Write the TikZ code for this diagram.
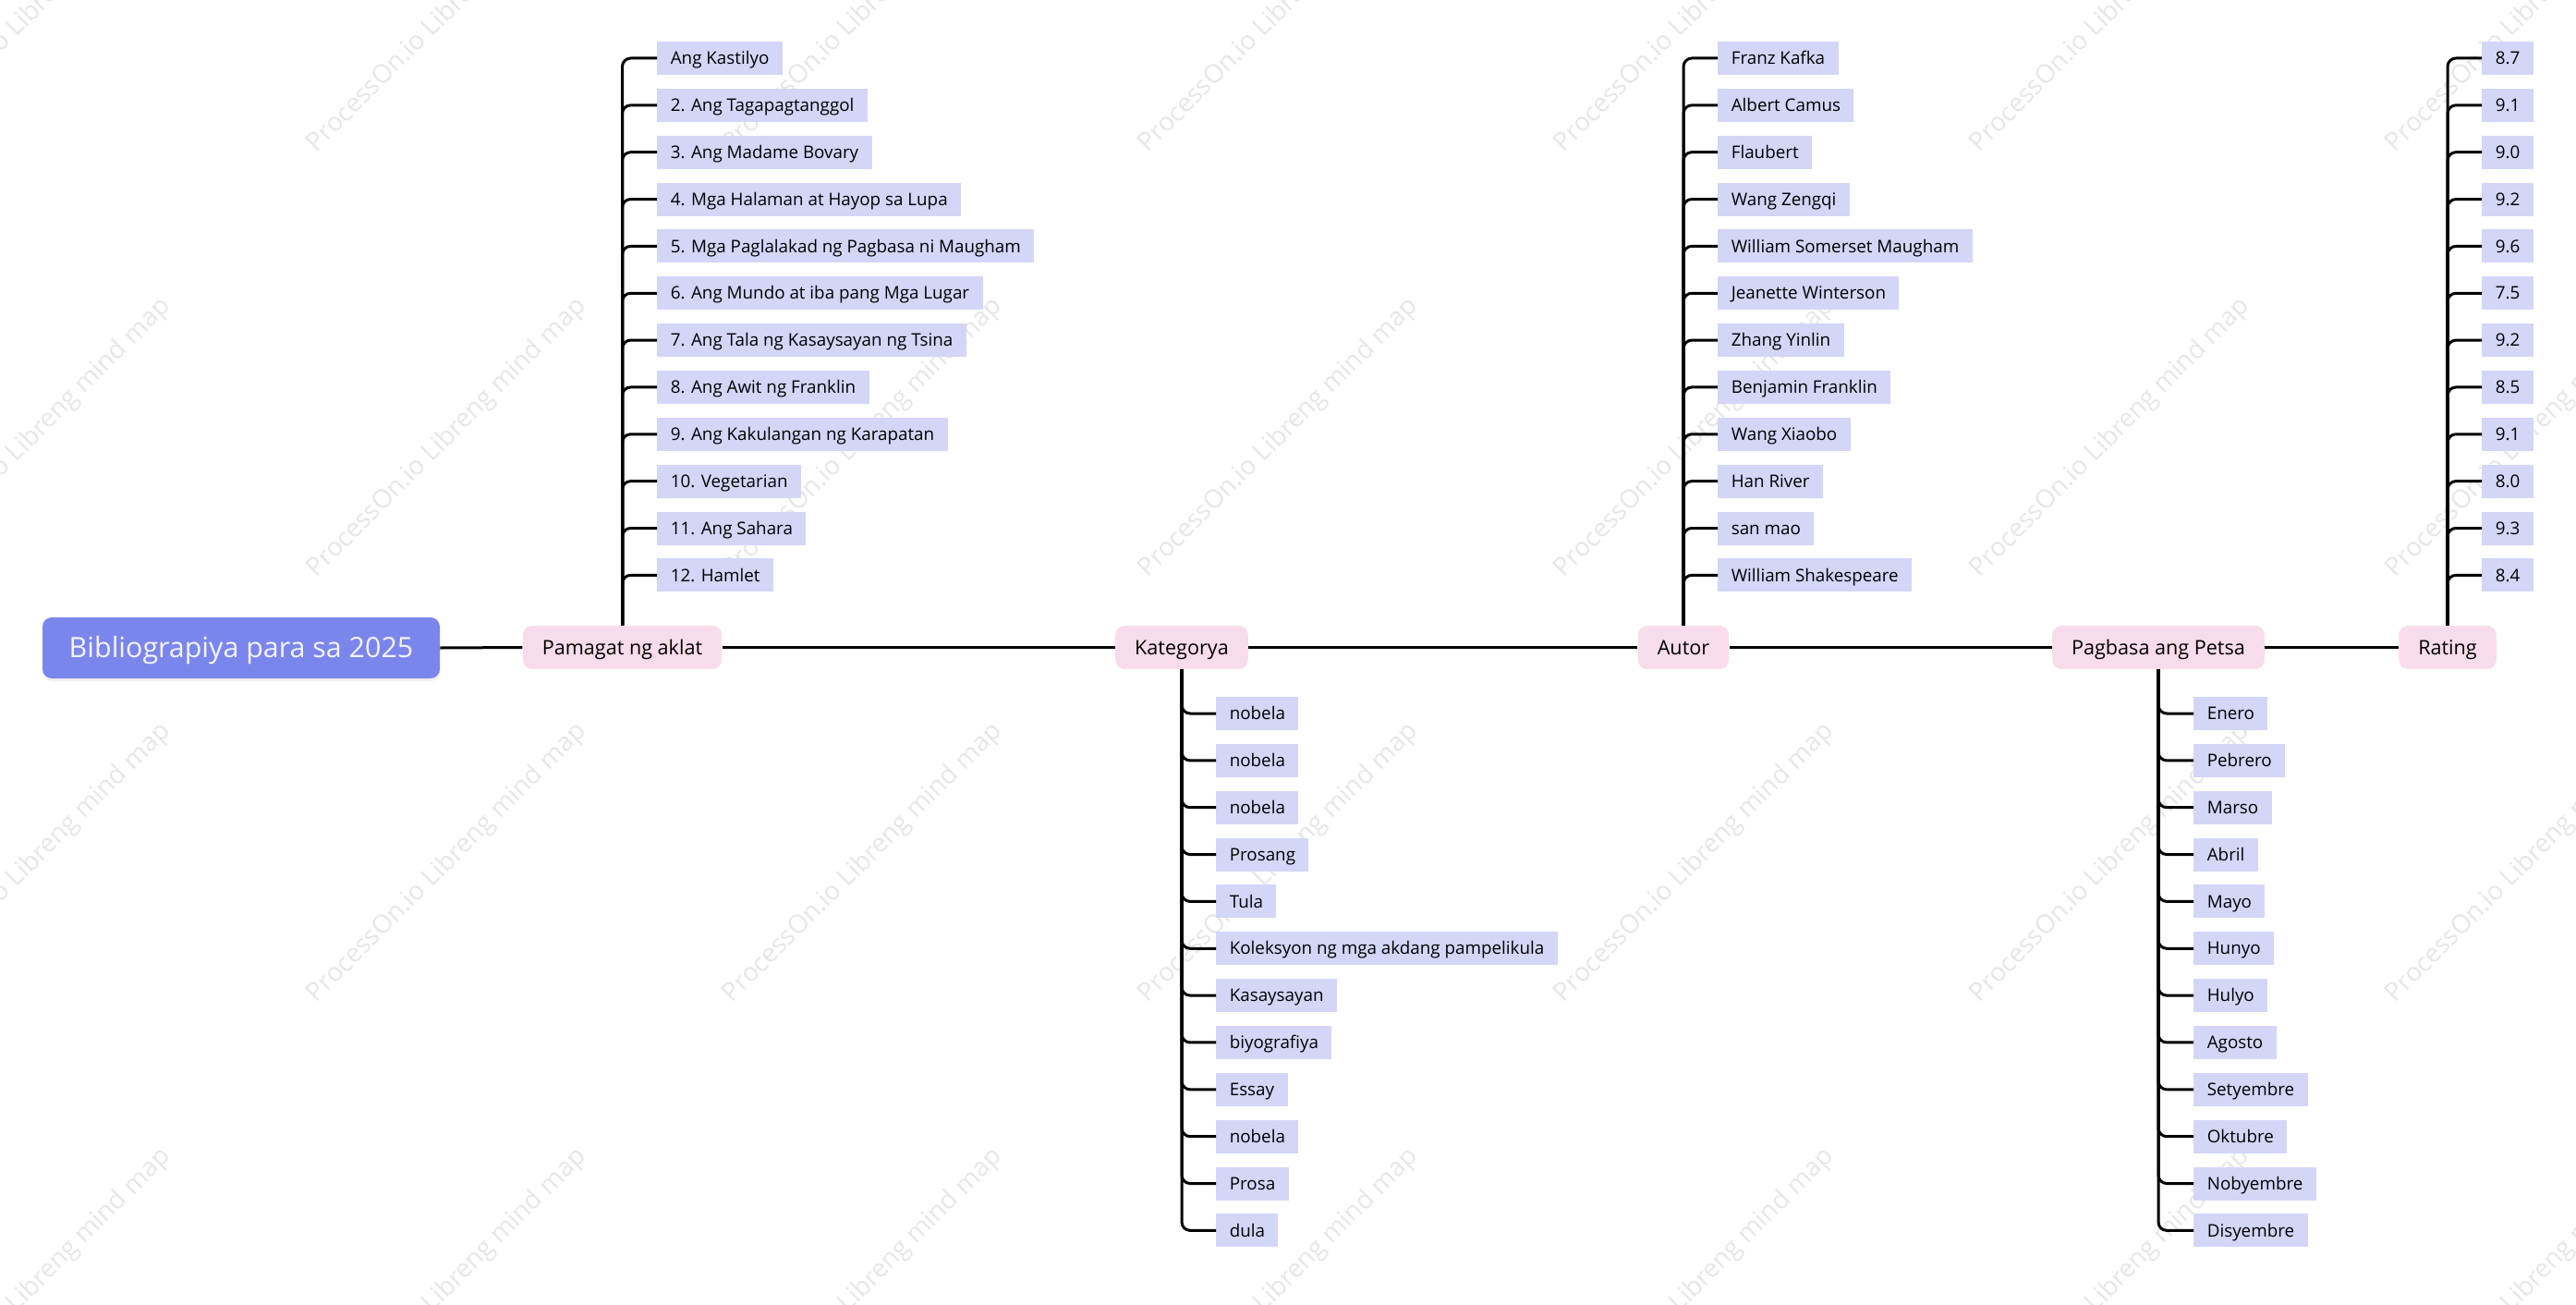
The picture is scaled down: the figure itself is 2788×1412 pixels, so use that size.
\documentclass[tikz,border=0pt]{standalone}
\usepackage{fontspec}
\setmainfont{Open Sans}
\usetikzlibrary{shadows}
\definecolor{rootc}{HTML}{7B86EC}
\definecolor{topicc}{HTML}{F9DCEB}
\definecolor{leafc}{HTML}{D3D6F7}
\definecolor{wmc}{HTML}{E6E6E6}
\definecolor{roottext}{HTML}{F4F4FF}
\begin{document}
\begin{tikzpicture}[x=0.5pt,y=-0.5pt,
 rootbox/.style={fill=rootc, rounded corners=5pt, text=roottext, font=\fontsize{15.2}{18}\selectfont, minimum width=215pt, minimum height=33pt, inner sep=0pt, text height=10.9pt, text depth=0pt, drop shadow={opacity=0.12, shadow xshift=0pt, shadow yshift=-1.5pt}},
 topicbox/.style={fill=topicc, rounded corners=5pt, font=\fontsize{10.8}{13}\selectfont, minimum height=23.5pt, inner xsep=10.5pt, inner ysep=0pt, text height=7.7pt, text depth=0pt},
 leafbox/.style={fill=leafc, font=\fontsize{9.4}{11}\selectfont, minimum height=18pt, inner xsep=7.2pt, inner ysep=0pt, text height=6.7pt, text depth=0pt, anchor=west},
 link/.style={line width=1.5pt, black},
 branch/.style={line width=1.5pt, black, rounded corners=4.5pt},
 wm/.style={text=wmc, rotate=45, font=\fontsize{13.9}{16}\selectfont}
]
\useasboundingbox (0,0) rectangle (2788,1412);
\begin{scope}
\clip (0,0) rectangle (2788,1412);
\foreach \cx in {34,484,934,1384,1834,2284,2734}
  \foreach \cy in {14,474,934,1394}
    \node[wm] (wm-\cx-\cy) at (\cx,\cy) {ProcessOn.io Libreng mind map};
\end{scope}

% root and topics
\node[rootbox] (root) at (261,701) {Bibliograpiya para sa 2025};
\node[topicbox] (pam) at (673.5,700.5) {Pamagat ng aklat};
\node[topicbox] (kat) at (1279,700.5) {Kategorya};
\node[topicbox] (aut) at (1822,700.5) {Autor};
\node[topicbox] (pag) at (2336,700.5) {Pagbasa ang Petsa};
\node[topicbox] (rat) at (2649,700.5) {Rating};

\draw[link] (root.east) -- (pam.west);
\draw[link] (pam.east) -- (kat.west);
\draw[link] (kat.east) -- (aut.west);
\draw[link] (aut.east) -- (pag.west);
\draw[link] (pag.east) -- (rat.west);

% Pamagat ng aklat
\foreach \t [count=\i from 0] in {Ang Kastilyo, 2. Ang Tagapagtanggol, 3. Ang Madame Bovary, 4. Mga Halaman at Hayop sa Lupa, 5. Mga Paglalakad ng Pagbasa ni Maugham, 6. Ang Mundo at iba pang Mga Lugar, 7. Ang Tala ng Kasaysayan ng Tsina, 8. Ang Awit ng Franklin, 9. Ang Kakulangan ng Karapatan, 10. Vegetarian, 11. Ang Sahara, 12. Hamlet}{
  \node[leafbox] (pa\i) at (711,{63+50.85*\i}) {\t};
  \draw[branch] (pam.north) |- (pa\i.west);
}

% Kategorya
\foreach \t [count=\i from 0] in {nobela, nobela, nobela, Prosang, Tula, Koleksyon ng mga akdang pampelikula, Kasaysayan, biyografiya, Essay, nobela, Prosa, dula}{
  \node[leafbox] (ka\i) at (1316,{772+50.85*\i}) {\t};
  \draw[branch] (kat.south) |- (ka\i.west);
}

% Autor
\foreach \t [count=\i from 0] in {Franz Kafka, Albert Camus, Flaubert, Wang Zengqi, William Somerset Maugham, Jeanette Winterson, Zhang Yinlin, Benjamin Franklin, Wang Xiaobo, Han River, san mao, William Shakespeare}{
  \node[leafbox] (au\i) at (1859,{63+50.85*\i}) {\t};
  \draw[branch] (aut.north) |- (au\i.west);
}

% Pagbasa ang Petsa
\foreach \t [count=\i from 0] in {Enero, Pebrero, Marso, Abril, Mayo, Hunyo, Hulyo, Agosto, Setyembre, Oktubre, Nobyembre, Disyembre}{
  \node[leafbox] (pg\i) at (2374,{772+50.85*\i}) {\t};
  \draw[branch] (pag.south) |- (pg\i.west);
}

% Rating
\foreach \t [count=\i from 0] in {8.7, 9.1, 9.0, 9.2, 9.6, 7.5, 9.2, 8.5, 9.1, 8.0, 9.3, 8.4}{
  \node[leafbox] (ra\i) at (2686,{63+50.85*\i}) {\t};
  \draw[branch] (rat.north) |- (ra\i.west);
}
\end{tikzpicture}
\end{document}
